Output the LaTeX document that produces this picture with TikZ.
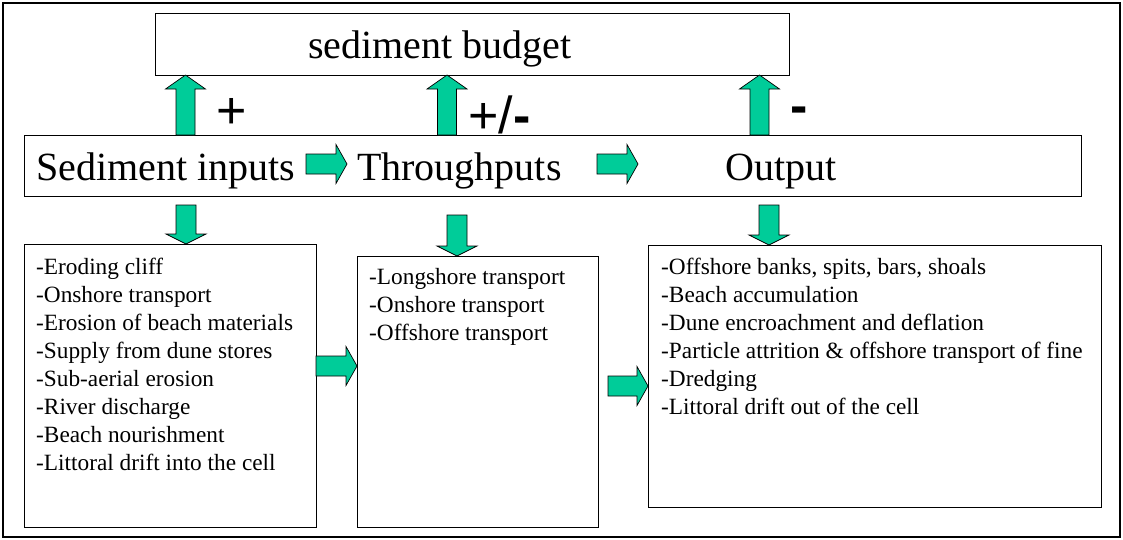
\documentclass[tikz,border=0pt]{standalone}
\usepackage{fontspec}
\setmainfont{Liberation Serif}
\newfontfamily\arialf{Liberation Sans}
\usetikzlibrary{calc}
\definecolor{sgreen}{RGB}{0,204,153}
\newcommand\BArrUp[2]{\draw[blk] let \p1=#1, \p2=#2 in (\x1-9.5pt,\y1) -- (\x1-9.5pt,\y2-14pt) -- (\x1-20pt,\y2-14pt) -- (\x1,\y2) -- (\x1+20pt,\y2-14pt) -- (\x1+9.5pt,\y2-14pt) -- (\x1+9.5pt,\y1) -- cycle;}
\newcommand\BArrDown[2]{\draw[blk] let \p1=#1, \p2=#2 in (\x1-10pt,\y1) -- (\x1-10pt,\y2+10pt) -- (\x1-20pt,\y2+10pt) -- (\x1,\y2) -- (\x1+20pt,\y2+10pt) -- (\x1+10pt,\y2+10pt) -- (\x1+10pt,\y1) -- cycle;}
\newcommand\BArrRight[2]{\draw[blk] let \p1=#1, \p2=#2 in (\x1,\y1-10pt) -- (\x2-11pt,\y1-10pt) -- (\x2-11pt,\y1-19.5pt) -- (\x2,\y1) -- (\x2-11pt,\y1+19.5pt) -- (\x2-11pt,\y1+10pt) -- (\x1,\y1+10pt) -- cycle;}
\begin{document}
\begin{tikzpicture}[x=1pt,y=-1pt,
 box/.style={draw=black, line width=0.9pt, inner sep=0, outer sep=0, anchor=north west},
 big/.style={font=\fontsize{40}{48}\selectfont, inner sep=0, anchor=base west},
 list/.style={font=\fontsize{23.3}{28}\selectfont, inner sep=0, anchor=north west, align=left},
 sign/.style={font=\arialf\fontsize{52}{60}\selectfont, inner sep=0, anchor=base west},
 blk/.style={draw=black, line width=0.7pt, fill=sgreen}]
\useasboundingbox (0,0) rectangle (1123,539);
\node[box, line width=1.3pt, minimum width=1117, minimum height=534] (frame) at (3,3) {};
% boxes
\node[box, minimum width=634, minimum height=62] (budget) at (155,13) {};
\node[box, minimum width=1057, minimum height=61] (flow) at (24,135) {};
\node[box, minimum width=292, minimum height=283] (inbox) at (24,244) {};
\node[box, minimum width=241, minimum height=271] (thbox) at (357,256) {};
\node[box, minimum width=453, minimum height=262] (outbox) at (648,245) {};
% big texts
\node[big] (tbudget) at (308,58) {sediment budget};
\node[big] (tin) at (36,180) {Sediment inputs};
\node[big] (tth) at (357,180) {Throughputs};
\node[big] (tout) at (725,180) {Output};
% lists
\node[list] (lin) at (36,258) {-Eroding cliff\\-Onshore transport\\-Erosion of beach materials\\-Supply from dune stores\\-Sub-aerial erosion\\-River discharge\\-Beach nourishment\\-Littoral drift into the cell};
\node[list] (lth) at (369,268) {-Longshore transport\\-Onshore transport\\-Offshore transport};
\node[list] (lout) at (661,258) {-Offshore banks, spits, bars, shoals\\-Beach accumulation\\-Dune encroachment and deflation\\-Particle attrition \& offshore transport of fine\\-Dredging\\-Littoral drift out of the cell};
% signs
\node[sign] (plus) at (216,128) {+};
\node[sign] (pm) at (468,133) {+/\textbf{-}};
\node[sign] (minus) at (790,123) {\textbf{-}};
% up arrows
\coordinate (ux1) at (185.5,0);
\coordinate (ux2) at (447,0);
\coordinate (ux3) at (759.5,0);
\BArrUp{(flow.north -| ux1)}{(budget.south -| ux1)}
\BArrUp{(flow.north -| ux2)}{(budget.south -| ux2)}
\BArrUp{(flow.north -| ux3)}{(budget.south -| ux3)}
% down arrows
\coordinate (dx1) at (186,205);
\coordinate (dx2) at (457,215);
\coordinate (dx3) at (769,205);
\BArrDown{(dx1)}{(inbox.north -| dx1)}
\BArrDown{(dx2)}{(thbox.north -| dx2)}
\BArrDown{(dx3)}{(outbox.north -| dx3)}
% right arrows in flow box
\coordinate (rs1) at (306,164);
\coordinate (rt1) at (347,164);
\coordinate (rs2) at (597,164);
\coordinate (rt2) at (638,164);
\BArrRight{(rs1)}{(rt1)}
\BArrRight{(rs2)}{(rt2)}
% right arrows between lower boxes
\coordinate (ry1) at (0,366);
\coordinate (rs3) at (608,386);
\BArrRight{(inbox.east |- ry1)}{(thbox.west |- ry1)}
\BArrRight{(rs3)}{(outbox.west |- rs3)}
\end{tikzpicture}
\end{document}
